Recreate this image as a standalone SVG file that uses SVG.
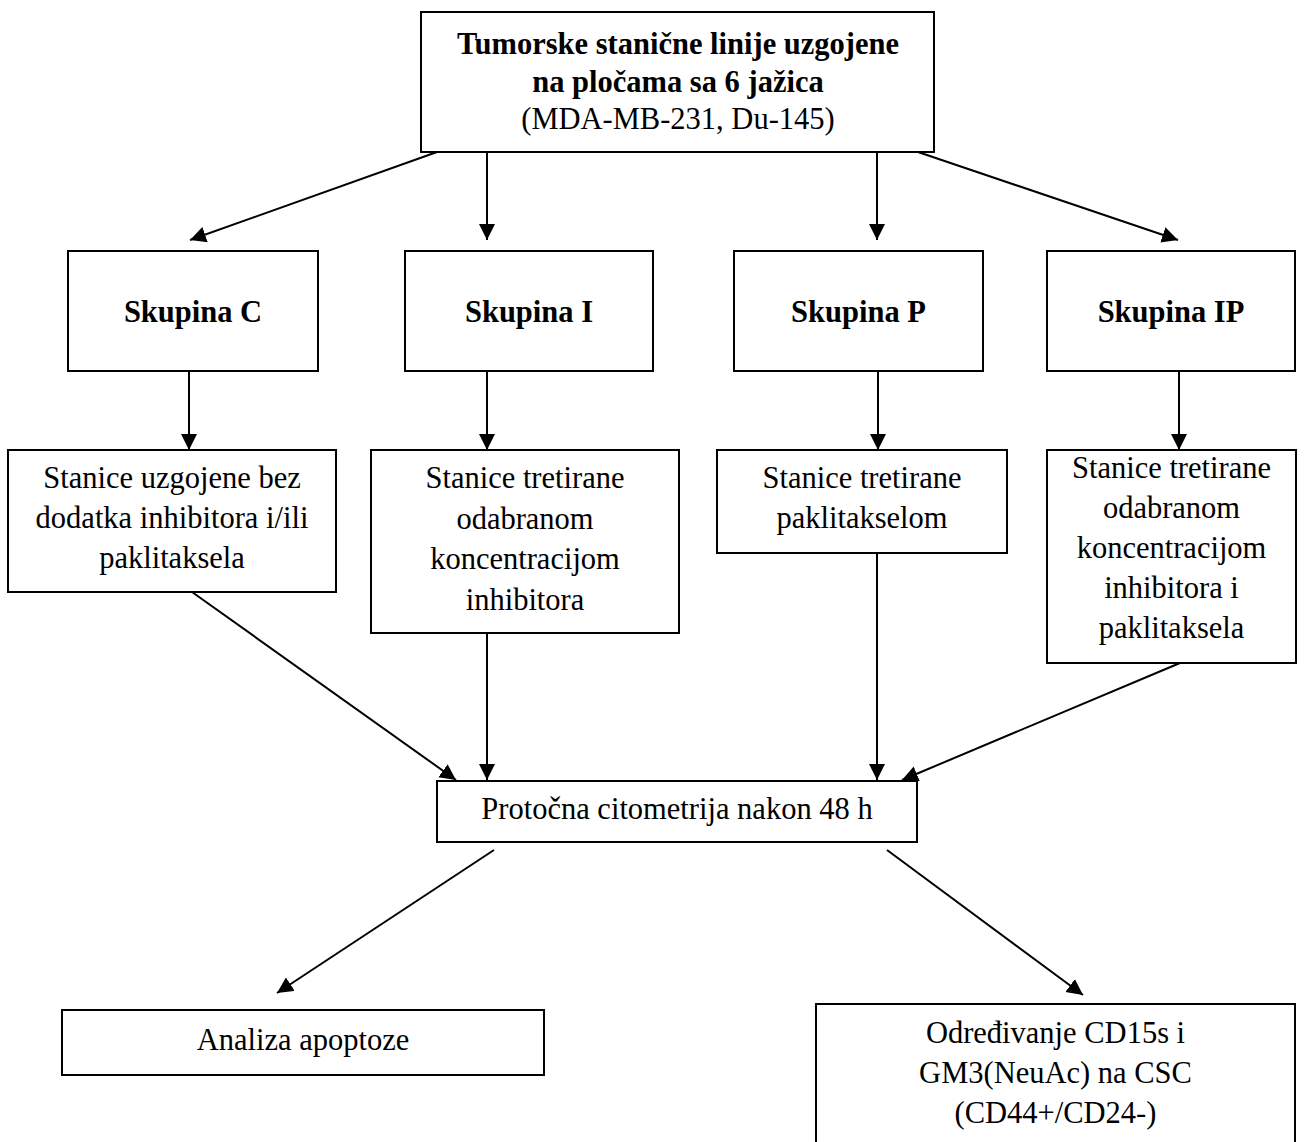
<svg xmlns="http://www.w3.org/2000/svg" width="1306" height="1142" viewBox="0 0 1306 1142">
<style>
.box{fill:#fff;stroke:#000;stroke-width:2}
.t{font-family:"Liberation Serif","Times New Roman",serif;font-size:30.5px;fill:#000;text-anchor:middle}
.b{font-weight:bold}
.c{stroke:#000;stroke-width:2;fill:none;marker-end:url(#ah)}
</style>
<defs>
<marker id="ah" markerUnits="userSpaceOnUse" markerWidth="18" markerHeight="18" refX="16" refY="8" orient="auto">
<path d="M0,0 L16,8 L0,16 Z" fill="#000"/>
</marker>
</defs>
<rect width="1306" height="1142" fill="#fff"/>
<g id="connectors">
<line class="c" x1="437" y1="152" x2="190" y2="240"/>
<line class="c" x1="487" y1="152" x2="487" y2="240"/>
<line class="c" x1="877" y1="152" x2="877" y2="240"/>
<line class="c" x1="918" y1="152" x2="1178" y2="240"/>
<line class="c" x1="189" y1="371" x2="189" y2="450"/>
<line class="c" x1="487" y1="371" x2="487" y2="450"/>
<line class="c" x1="878" y1="371" x2="878" y2="450"/>
<line class="c" x1="1179" y1="371" x2="1179" y2="450"/>
<line class="c" x1="192" y1="592" x2="456" y2="780"/>
<line class="c" x1="487" y1="633" x2="487" y2="780"/>
<line class="c" x1="877" y1="553" x2="877" y2="780"/>
<line class="c" x1="1180" y1="663" x2="902" y2="780"/>
<line class="c" x1="494" y1="850" x2="277" y2="993"/>
<line class="c" x1="887" y1="850" x2="1083" y2="995"/>
</g>
<g id="top">
<rect class="box" x="421" y="12" width="513" height="140"/>
<text class="t b" x="678" y="54">Tumorske stanične linije uzgojene</text>
<text class="t b" x="678" y="92">na pločama sa 6 jažica</text>
<text class="t" x="678" y="129">(MDA-MB-231, Du-145)</text>
</g>
<g id="skupinaC">
<rect class="box" x="68" y="251" width="250" height="120"/>
<text class="t b" x="193" y="322">Skupina C</text>
</g>
<g id="skupinaI">
<rect class="box" x="405" y="251" width="248" height="120"/>
<text class="t b" x="529" y="322">Skupina I</text>
</g>
<g id="skupinaP">
<rect class="box" x="734" y="251" width="249" height="120"/>
<text class="t b" x="858.5" y="322">Skupina P</text>
</g>
<g id="skupinaIP">
<rect class="box" x="1047" y="251" width="248" height="120"/>
<text class="t b" x="1171" y="322">Skupina IP</text>
</g>
<g id="stC">
<rect class="box" x="8" y="450" width="328" height="142"/>
<text class="t" x="172" y="488">Stanice uzgojene bez</text>
<text class="t" x="172" y="528">dodatka inhibitora i/ili</text>
<text class="t" x="172" y="568">paklitaksela</text>
</g>
<g id="stI">
<rect class="box" x="371" y="450" width="308" height="183"/>
<text class="t" x="525" y="488">Stanice tretirane</text>
<text class="t" x="525" y="528.5">odabranom</text>
<text class="t" x="525" y="569">koncentracijom</text>
<text class="t" x="525" y="610">inhibitora</text>
</g>
<g id="stP">
<rect class="box" x="717" y="450" width="290" height="103"/>
<text class="t" x="862" y="488">Stanice tretirane</text>
<text class="t" x="862" y="528">paklitakselom</text>
</g>
<g id="stIP">
<rect class="box" x="1047" y="450" width="249" height="213"/>
<text class="t" x="1171.5" y="478">Stanice tretirane</text>
<text class="t" x="1171.5" y="518">odabranom</text>
<text class="t" x="1171.5" y="558">koncentracijom</text>
<text class="t" x="1171.5" y="598">inhibitora i</text>
<text class="t" x="1171.5" y="638">paklitaksela</text>
</g>
<g id="protocna">
<rect class="box" x="437" y="781" width="480" height="61"/>
<text class="t" x="677" y="819">Protočna citometrija nakon 48 h</text>
</g>
<g id="analiza">
<rect class="box" x="62" y="1010" width="482" height="65"/>
<text class="t" x="303" y="1050">Analiza apoptoze</text>
</g>
<g id="odredivanje">
<rect class="box" x="816" y="1004" width="479" height="145"/>
<text class="t" x="1055.5" y="1043">Određivanje CD15s i</text>
<text class="t" x="1055.5" y="1083">GM3(NeuAc) na CSC</text>
<text class="t" x="1055.5" y="1123">(CD44+/CD24-)</text>
</g>
</svg>
